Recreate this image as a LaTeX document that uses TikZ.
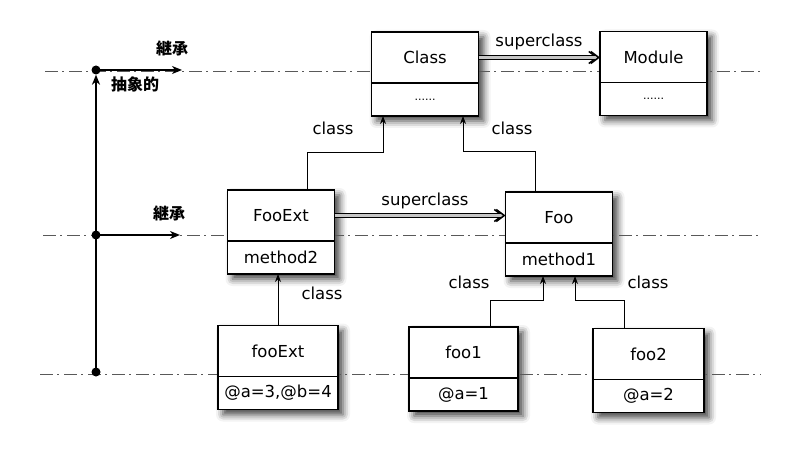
\documentclass[tikz,border=0pt]{standalone}
\usepackage{fontspec}
\setmainfont{DejaVu Sans}
\newfontfamily\jpfont{Noto Sans CJK JP}
\usetikzlibrary{arrows.meta,positioning,shadows.blur,backgrounds}

\begin{document}
\begin{tikzpicture}[x=1pt,y=-1pt,font=\fontsize{16.5}{19}\selectfont,
                name part/.style={draw,fill=white,line width=1.1pt,outer sep=0pt,inner sep=0pt,
                  minimum width=107pt,minimum height=51pt},
                body part/.style={name part,minimum height=33pt},
                box shadow/.style={blur shadow={shadow xshift=5pt,shadow yshift=-5pt,
                  shadow blur radius=7pt,shadow opacity=75}},
                class arrow/.style={-{Stealth[length=8pt,width=6pt]},line width=0.9pt},
                super arrow/.style={draw=gray!45,line width=2.4pt,
                  preaction={draw=black,line width=4.4pt,shorten >=2pt},
                  -{Straight Barb[color=black,length=8pt,width=12pt,line width=1.5pt]}},
                level line/.style={gray!70!black,line width=0.8pt,dash pattern=on 13pt off 4pt on 2pt off 5pt},
                inherit arrow/.style={line width=1.6pt,-{Stealth[length=10pt,width=8pt,inset=3pt]}},
                dot/.style={circle,fill,inner sep=0pt,minimum size=9pt},
                jp/.style={font=\jpfont\bfseries\fontsize{16}{18}\selectfont}]

  \useasboundingbox (0,0) rectangle (800,454);

  % levels
  \draw[level line] (45,71) -- (761,71);
  \draw[level line] (43,235) -- (761,235);
  \draw[level line] (40,374) -- (761,374);

  \node[dot] (top dot) at (96,70) {};
  \node[dot] (mid dot) at (96,235) {};
  \node[dot] (low dot) at (96,372) {};
  \coordinate (top end) at (182,70);
  \coordinate (mid end) at (180,235);
  \draw[inherit arrow] (top dot.center) -- (top end);
  \draw[inherit arrow] (mid dot.center) -- (mid end);
  \draw[inherit arrow] (low dot.center) -- (top dot.south);
  \node[jp] (top inherit) at (172,48) {継承};
  \node[jp] (mid inherit) at (169,213) {継承};
  \node[jp] (abstract) at (135,84) {抽象的};

  % classes
  \node[name part] (Class) at (425,57.5) {Class};
  \node[body part,below=0pt of Class] (Class-body) {\fontsize{11}{12}\selectfont ......};
  \node[name part] (Module) at (653.5,57) {Module};
  \node[body part,below=0pt of Module] (Module-body) {\fontsize{11}{12}\selectfont ......};
  \node[name part] (FooExt) at (281,215.5) {FooExt};
  \node[body part,below=0pt of FooExt] (FooExt-body) {method2};
  \node[name part] (Foo) at (559,217.5) {Foo};
  \node[body part,below=0pt of Foo] (Foo-body) {method1};

  % objects
  \node[name part,minimum width=120pt] (fooExt) at (278,351) {fooExt};
  \node[body part,minimum width=120pt,below=0pt of fooExt] (fooExt-body) {@a=3,@b=4};
  \node[name part,minimum width=109pt] (foo1) at (463.5,352.5) {foo1};
  \node[body part,minimum width=109pt,below=0pt of foo1] (foo1-body) {@a=1};
  \node[name part,minimum width=111pt] (foo2) at (648.5,354) {foo2};
  \node[body part,minimum width=111pt,below=0pt of foo2] (foo2-body) {@a=2};

  \begin{scope}[on background layer]
    \foreach \n in {Class,Module,FooExt,Foo,fooExt,foo1,foo2}
      \path[box shadow] (\n.north west) rectangle (\n-body.south east);
  \end{scope}

  % connectors
  \draw[super arrow] (Class.east) -- (Class.east -| Module.west);
  \draw[super arrow] (FooExt.east) -- (FooExt.east -| Foo.west);
  \draw[class arrow] ([xshift=26pt]FooExt.north) -- ++(0,-38) -| ([xshift=-42pt]Class-body.south);
  \draw[class arrow] ([xshift=-24pt]Foo.north) -- ++(0,-41) -| ([xshift=38pt]Class-body.south);
  \draw[class arrow] (fooExt.north) -- (fooExt.north |- FooExt-body.south);
  \draw[class arrow] ([xshift=27pt]foo1.north) -- ++(0,-27) -| ([xshift=-16pt]Foo-body.south);
  \draw[class arrow] ([xshift=-24pt]foo2.north) -- ++(0,-28) -| ([xshift=16pt]Foo-body.south);

  % labels
  \node (sup1) at (539,42) {superclass};
  \node (sup2) at (425,201) {superclass};
  \node (cls1) at (333,128) {class};
  \node (cls2) at (512,128) {class};
  \node (cls3) at (322,293) {class};
  \node (cls4) at (469,282) {class};
  \node (cls5) at (648,282) {class};

\end{tikzpicture}
\end{document}
